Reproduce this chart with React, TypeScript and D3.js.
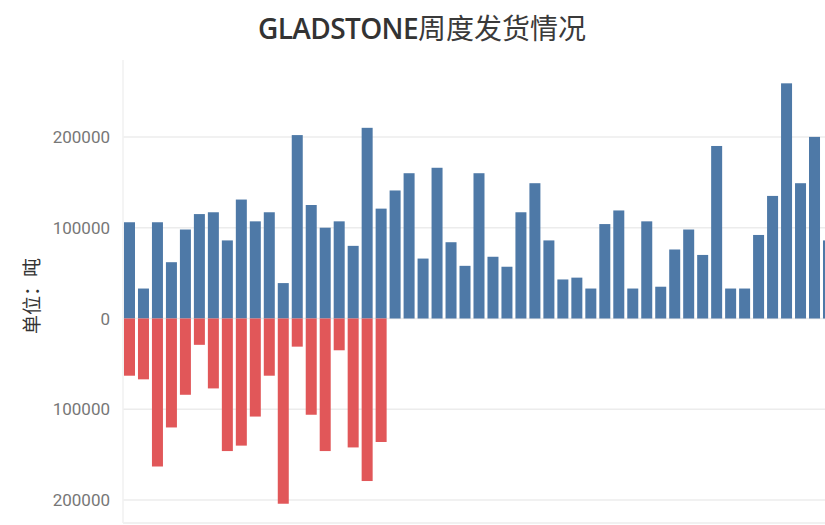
import React from "react";
import * as d3 from "d3";

const title = "GLADSTONE周度发货情况";
const yAxisTitle = "单位：吨";

const weeks: string[] = Array.from({ length: 51 }, (_, i) => `W${i + 1}`);

const shipmentsBlue: number[] = [
  106000, 33000, 106000, 62000, 98000, 115000, 117000, 86000, 131000, 107000,
  117000, 39000, 202000, 125000, 100000, 107000, 80000, 210000, 121000, 141000,
  160000, 66000, 166000, 84000, 58000, 160000, 68000, 57000, 117000, 149000,
  86000, 43000, 45000, 33000, 104000, 119000, 33000, 107000, 35000, 76000,
  98000, 70000, 190000, 33000, 33000, 92000, 135000, 259000, 149000, 200000,
  86000,
];

const shipmentsRed: number[] = [
  -63000, -67000, -163000, -120000, -84000, -29000, -77000, -146000, -140000, -108000,
  -63000, -204000, -31000, -106000, -146000, -35000, -142000, -179000, -136000,
];

const yTicks: number[] = [-200000, -100000, 0, 100000, 200000];

const W = 825;
const H = 525;
const plotTop = 60;
const plotBottom = 523;
const zeroY = 318.5;
const pxPerUnit = 0.000908;

export default function App() {
  const step = 13.98;
  const x0 = 122.5;
  const x = d3
    .scaleBand<string>()
    .domain(weeks)
    .range([x0, x0 + step * weeks.length])
    .paddingInner(0.213)
    .paddingOuter(0.1065);

  const yMax = (zeroY - plotTop) / pxPerUnit;
  const yMin = -(plotBottom - zeroY) / pxPerUnit;
  const y = d3.scaleLinear().domain([yMin, yMax]).range([plotBottom, plotTop]);

  const fmt = (v: number) => String(Math.abs(v));
  const latin = title.slice(0, 9);
  const cjk = title.slice(9);

  return (
    <svg
      width={W}
      height={H}
      style={{ position: "absolute", left: 0, top: 0, background: "#fff" }}
    >
      <defs>
        <clipPath id="plotclip">
          <rect x={0} y={0} width={W} height={H} />
        </clipPath>
      </defs>
      <rect x={0} y={0} width={W} height={H} fill="#fff" />
      <text
        x={422}
        y={39}
        textAnchor="middle"
        fill="#333"
        style={{ fontFamily: "'Open Sans', 'Noto Sans CJK SC', sans-serif", fontSize: 28 }}
      >
        <tspan fontWeight={600} letterSpacing={-0.6}>{latin}</tspan>
        <tspan style={{ fontFamily: "'Noto Sans CJK SC'" }} fontWeight={400} fill="#3a3a3a">
          {cjk}
        </tspan>
      </text>

      {/* grid */}
      {yTicks.map((t) => (
        <line
          key={`g${t}`}
          x1={123}
          x2={W}
          y1={y(t)}
          y2={y(t)}
          stroke="#ececec"
          strokeWidth={1.5}
        />
      ))}
      <line x1={123} x2={W} y1={plotBottom} y2={plotBottom} stroke="#ececec" strokeWidth={1.5} />
      <line x1={123} x2={123} y1={plotTop} y2={plotBottom} stroke="#f0f0f0" strokeWidth={1.5} />

      {/* bars */}
      <g clipPath="url(#plotclip)">
        {shipmentsBlue.map((v, i) => (
          <rect
            key={`b${i}`}
            x={x(weeks[i])}
            width={x.bandwidth()}
            y={y(Math.max(0, v))}
            height={Math.abs(y(v) - y(0))}
            fill="#4e79a7"
          />
        ))}
        {shipmentsRed.map((v, i) => (
          <rect
            key={`r${i}`}
            x={x(weeks[i])}
            width={x.bandwidth()}
            y={y(0)}
            height={Math.abs(y(v) - y(0))}
            fill="#e15759"
          />
        ))}
      </g>

      {/* y tick labels */}
      {yTicks.map((t) => (
        <text
          key={`t${t}`}
          x={110}
          y={y(t)}
          dy="0.36em"
          textAnchor="end"
          fill="#777"
          style={{ fontFamily: "Roboto, 'Noto Sans', sans-serif", fontSize: 17 }}
        >
          {fmt(t)}
        </text>
      ))}

      {/* y axis title */}
      <text
        transform={`translate(32, 296) rotate(-90)`}
        textAnchor="middle"
        dy="0.35em"
        fill="#333"
        style={{ fontFamily: "'Noto Sans CJK SC', sans-serif", fontSize: 19 }}
      >
        {yAxisTitle}
      </text>
    </svg>
  );
}
